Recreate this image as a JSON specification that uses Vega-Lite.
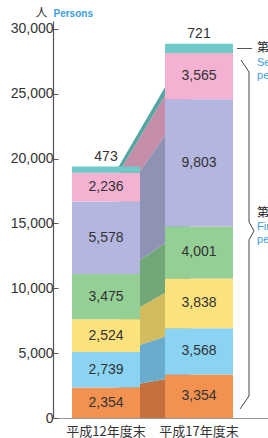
{
  "$schema": "https://vega.github.io/schema/vega-lite/v6.json",
  "width": 215,
  "height": 397,
  "autosize": {"type": "none"},
  "padding": {"left": 53, "top": 21, "right": 0, "bottom": 20},
  "background": "white",
  "config": {"view": {"stroke": null}, "font": "Liberation Sans"},
  "data": {
    "values": [
      {"period": "平成12年度末", "layer": "L1", "value": 2354},
      {"period": "平成12年度末", "layer": "L2", "value": 2739},
      {"period": "平成12年度末", "layer": "L3", "value": 2524},
      {"period": "平成12年度末", "layer": "L4", "value": 3475},
      {"period": "平成12年度末", "layer": "L5", "value": 5578},
      {"period": "平成12年度末", "layer": "L6", "value": 2236},
      {"period": "平成12年度末", "layer": "L7", "value": 473},
      {"period": "平成17年度末", "layer": "L1", "value": 3354},
      {"period": "平成17年度末", "layer": "L2", "value": 3568},
      {"period": "平成17年度末", "layer": "L3", "value": 3838},
      {"period": "平成17年度末", "layer": "L4", "value": 4001},
      {"period": "平成17年度末", "layer": "L5", "value": 9803},
      {"period": "平成17年度末", "layer": "L6", "value": 3565},
      {"period": "平成17年度末", "layer": "L7", "value": 721}
    ]
  },
  "layer": [
    {
      "mark": {"type": "area", "interpolate": "linear"},
      "encoding": {
        "x": {"field": "period", "type": "nominal", "scale": {"type": "point", "padding": 3.8, "align": 0.458, "domain": ["平成12年度末", "平成17年度末"]}, "axis": null},
        "y": {"field": "value", "type": "quantitative", "stack": "zero", "scale": {"domain": [0, 30600], "nice": false},
          "axis": {"orient": "right", "title": "Persons", "titleAngle": 0, "titleAlign": "left", "titleBaseline": "middle", "titleX": -215, "titleY": -8, "titleColor": "#3d9ee0", "titleFontSize": 10, "titleFontWeight": "bold", "titleFont": "Liberation Sans", "labels": false, "ticks": false, "domain": false, "grid": false}},
        "color": {"field": "layer", "type": "nominal", "legend": null,
          "scale": {"domain": ["L1","L2","L3","L4","L5","L6","L7"], "range": ["#c4703c","#6aaccc","#d2bc5e","#72a878","#8e92b4","#c48ea8","#54a6a2"]}},
        "order": {"field": "layer"}
      }
    },
    {
      "layer": [
        {
          "mark": {"type": "bar"},
          "encoding": {
            "x": {"field": "period", "type": "nominal", "scale": {"type": "band", "paddingInner": 0.2688, "paddingOuter": 0.2903, "align": 0.352, "domain": ["平成12年度末", "平成17年度末"]},
              "axis": {"title": null, "ticks": false, "labelAngle": 0, "labelFont": "Noto Sans CJK JP", "labelFontSize": 13, "labelColor": "#333", "labelPadding": 7, "domainColor": "#999", "domainWidth": 1.2}},
            "y": {"field": "value", "type": "quantitative", "stack": "zero", "scale": {"domain": [0, 30600], "nice": false},
              "axis": {"values": [0, 5000, 10000, 15000, 20000, 25000, 30000], "format": ",.0f", "grid": false, "tickSize": -5, "labelPadding": 5, "labelFontSize": 14, "labelColor": "#333", "domainColor": "#555", "tickColor": "#555", "domainWidth": 1.2,
                "title": "人", "titleAngle": 0, "titleAlign": "left", "titleBaseline": "middle", "titleX": -18, "titleY": -9, "titleFont": "Noto Sans CJK JP", "titleFontSize": 12, "titleFontWeight": "normal", "titleColor": "#333"}},
            "color": {"field": "layer", "type": "nominal", "legend": null,
              "scale": {"domain": ["L1","L2","L3","L4","L5","L6","L7"], "range": ["#f39250","#8ad3f3","#fbe27c","#94cf95","#b3b6de","#f4b2d2","#6ecbc7"]}},
            "order": {"field": "layer"}
          }
        },
        {
          "mark": {"type": "text", "fontSize": 14, "color": "#333", "baseline": "middle"},
          "encoding": {
            "x": {"field": "period", "type": "nominal"},
            "y": {"field": "value", "type": "quantitative", "stack": "zero", "bandPosition": 0.5},
            "detail": {"field": "layer"},
            "order": {"field": "layer"},
            "text": {"condition": {"test": "datum.layer !== 'L7'", "field": "value", "type": "quantitative", "format": ","}, "value": ""}
          }
        },
        {
          "mark": {"type": "text", "fontSize": 14, "color": "#333", "baseline": "bottom", "dy": -3},
          "encoding": {
            "x": {"field": "period", "type": "nominal"},
            "y": {"field": "value", "type": "quantitative", "stack": "zero"},
            "detail": {"field": "layer"},
            "order": {"field": "layer"},
            "text": {"condition": {"test": "datum.layer === 'L7'", "field": "value", "type": "quantitative", "format": ","}, "value": ""}
          }
        },
        {
          "data": {"values": [{}]},
          "mark": {"type": "rule", "color": "#555", "strokeWidth": 1, "xOffset": 4, "x2Offset": 19},
          "encoding": {"x": {"datum": "平成17年度末", "bandPosition": 1}, "x2": {"datum": "平成17年度末", "bandPosition": 1}, "y": {"datum": 28481}, "y2": {"datum": 28481}}
        },
        {
          "data": {"values": [{}]},
          "mark": {"type": "rule", "color": "#444", "strokeWidth": 1, "xOffset": 8, "x2Offset": 16},
          "encoding": {"x": {"datum": "平成17年度末", "bandPosition": 1}, "x2": {"datum": "平成17年度末", "bandPosition": 1}, "y": {"datum": 27595}, "y2": {"datum": 26670}}
        },
        {
          "data": {"values": [{}]},
          "mark": {"type": "rule", "color": "#444", "strokeWidth": 1, "xOffset": 16},
          "encoding": {"x": {"datum": "平成17年度末", "bandPosition": 1}, "y": {"datum": 26670}, "y2": {"datum": 15108}}
        },
        {
          "data": {"values": [{}]},
          "mark": {"type": "rule", "color": "#444", "strokeWidth": 1, "xOffset": 16, "x2Offset": 21},
          "encoding": {"x": {"datum": "平成17年度末", "bandPosition": 1}, "x2": {"datum": "平成17年度末", "bandPosition": 1}, "y": {"datum": 15108}, "y2": {"datum": 14414}}
        },
        {
          "data": {"values": [{}]},
          "mark": {"type": "rule", "color": "#444", "strokeWidth": 1, "xOffset": 21, "x2Offset": 16},
          "encoding": {"x": {"datum": "平成17年度末", "bandPosition": 1}, "x2": {"datum": "平成17年度末", "bandPosition": 1}, "y": {"datum": 14414}, "y2": {"datum": 13720}}
        },
        {
          "data": {"values": [{}]},
          "mark": {"type": "rule", "color": "#444", "strokeWidth": 1, "xOffset": 16},
          "encoding": {"x": {"datum": "平成17年度末", "bandPosition": 1}, "y": {"datum": 13720}, "y2": {"datum": 1696}}
        },
        {
          "data": {"values": [{}]},
          "mark": {"type": "rule", "color": "#444", "strokeWidth": 1, "xOffset": 16, "x2Offset": 7},
          "encoding": {"x": {"datum": "平成17年度末", "bandPosition": 1}, "x2": {"datum": "平成17年度末", "bandPosition": 1}, "y": {"datum": 1696}, "y2": {"datum": 694}}
        },
        {
          "data": {"values": [{}]},
          "mark": {"type": "text", "text": "第2号被保険者", "align": "left", "baseline": "middle", "dx": 24, "font": "Noto Sans CJK JP", "fontSize": 12, "color": "#222"},
          "encoding": {"x": {"datum": "平成17年度末", "bandPosition": 1}, "y": {"datum": 28520}}
        },
        {
          "data": {"values": [{}]},
          "mark": {"type": "text", "text": "Secondary insured", "align": "left", "baseline": "middle", "dx": 24, "fontSize": 11, "color": "#3d9ee0"},
          "encoding": {"x": {"datum": "平成17年度末", "bandPosition": 1}, "y": {"datum": 27363}}
        },
        {
          "data": {"values": [{}]},
          "mark": {"type": "text", "text": "persons", "align": "left", "baseline": "middle", "dx": 24, "fontSize": 11, "color": "#3d9ee0"},
          "encoding": {"x": {"datum": "平成17年度末", "bandPosition": 1}, "y": {"datum": 26360}}
        },
        {
          "data": {"values": [{}]},
          "mark": {"type": "text", "text": "第1号被保険者", "align": "left", "baseline": "middle", "dx": 24, "font": "Noto Sans CJK JP", "fontSize": 12, "color": "#222"},
          "encoding": {"x": {"datum": "平成17年度末", "bandPosition": 1}, "y": {"datum": 15800}}
        },
        {
          "data": {"values": [{}]},
          "mark": {"type": "text", "text": "First insured", "align": "left", "baseline": "middle", "dx": 24, "fontSize": 11, "color": "#3d9ee0"},
          "encoding": {"x": {"datum": "平成17年度末", "bandPosition": 1}, "y": {"datum": 14722}}
        },
        {
          "data": {"values": [{}]},
          "mark": {"type": "text", "text": "persons", "align": "left", "baseline": "middle", "dx": 24, "fontSize": 11, "color": "#3d9ee0"},
          "encoding": {"x": {"datum": "平成17年度末", "bandPosition": 1}, "y": {"datum": 13720}}
        }
      ]
    }
  ],
  "resolve": {"scale": {"x": "independent", "color": "independent"}, "axis": {"y": "independent", "x": "independent"}}
}
